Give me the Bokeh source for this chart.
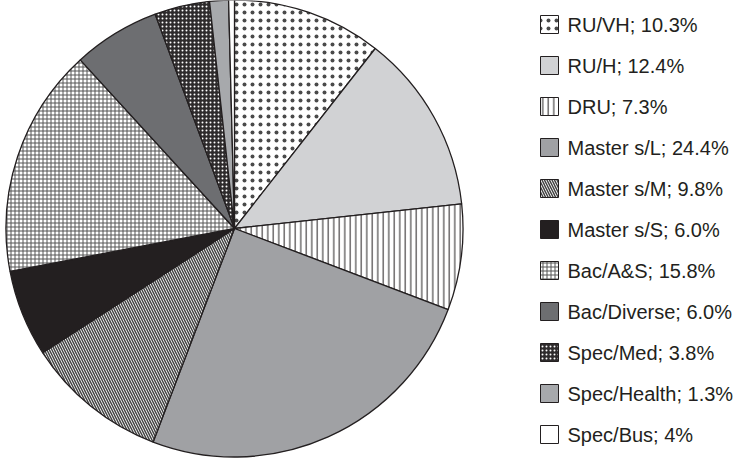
import numpy as np
from bokeh.plotting import figure
from bokeh.models import Range1d, ColumnDataSource
from bokeh.embed import file_html
from bokeh.resources import INLINE
from bokeh.core.properties import value

# ---- data ----
categories = ["RU/VH", "RU/H", "DRU", "Master s/L", "Master s/M", "Master s/S",
              "Bac/A&S", "Bac/Diverse", "Spec/Med", "Spec/Health", "Spec/Bus"]
shares = [10.3, 12.4, 7.3, 24.4, 9.8, 6.0, 15.8, 6.0, 3.8, 1.3, 0.4]
share_labels = ["10.3%", "12.4%", "7.3%", "24.4%", "9.8%", "6.0%",
                "15.8%", "6.0%", "3.8%", "1.3%", "4%"]

# ---- styles ----
fills = ["#ffffff", "#d1d2d4", "#ffffff", "#a0a1a4", "#ffffff", "#231f20",
         "#ffffff", "#6d6e71", "#2e2b2c", "#a7a9ac", "#ffffff"]
hatches = ["dot", "blank", "vertical_line", "blank", "left_diagonal_line", "blank",
           "cross", "blank", "dot", "blank", "blank"]
hatch_colors = ["#4a4a4a", "#231f20", "#231f20", "#231f20", "#444444", "#231f20",
                "#555555", "#231f20", "#ffffff", "#231f20", "#231f20"]
hatch_scales = [8, 6, 5.5, 6, 5, 6, 4, 6, 4, 6, 6]
hatch_weights = [0.9, 1, 1.0, 1, 1.5, 1, 1.0, 1, 1.6, 1, 1]

vals = np.array(shares, dtype=float)
cum = np.cumsum(vals) / vals.sum()
prev = np.concatenate([[0.0], cum[:-1]])
start = np.pi / 2 - 2 * np.pi * prev
end = np.pi / 2 - 2 * np.pi * cum

src = ColumnDataSource(dict(cat=categories, start=start, end=end, fill=fills,
                            hatch=hatches, hcol=hatch_colors, hscale=hatch_scales,
                            hw=hatch_weights))

W, H = 734, 458
p = figure(width=W, height=H, output_backend="svg", toolbar_location=None,
           x_range=Range1d(8, 8 + W), y_range=Range1d(-(8 + H), -8),
           min_border=0, outline_line_color=None)
p.xaxis.visible = False
p.yaxis.visible = False
p.grid.visible = False
p.background_fill_color = "white"
p.border_fill_color = "white"

cx, cy, R = 242, -236, 228.5
p.wedge(x=cx, y=cy, radius=R, start_angle="start", end_angle="end", direction="clock",
        source=src, fill_color="fill", hatch_pattern="hatch", hatch_color="hcol",
        hatch_scale="hscale", hatch_weight="hw", line_color="#231f20", line_width=1.3)

# legend
n = len(categories)
ly = [-(32 + 41 * i) for i in range(n)]
leg = ColumnDataSource(dict(y=ly, fill=fills, hatch=hatches, hcol=hatch_colors,
                            hscale=hatch_scales, hw=hatch_weights,
                            label=[f"{c}; {s}" for c, s in zip(categories, share_labels)]))
p.rect(x=557, y="y", width=18, height=18, source=leg, fill_color="fill",
       hatch_pattern="hatch", hatch_color="hcol", hatch_scale="hscale", hatch_weight="hw",
       line_color="#231f20", line_width=1)
p.text(x=575, y="y", text="label", source=leg, text_font=value("Liberation Sans"),
       text_font_size="20px", text_baseline="middle", text_align="left", text_color="#231f20")

open("out.html", "w").write(file_html(p, INLINE))
